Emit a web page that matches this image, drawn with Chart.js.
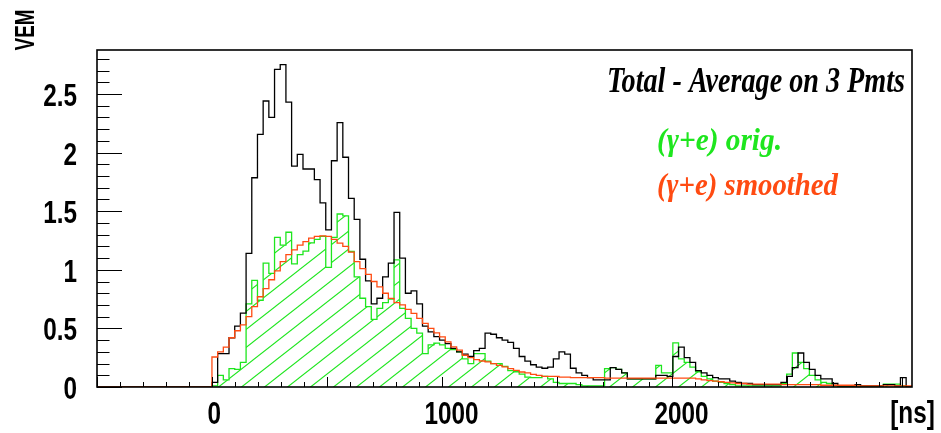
<!DOCTYPE html>
<html>
<head>
<meta charset="utf-8">
<title>VEM trace</title>
<script src="https://cdn.jsdelivr.net/npm/chart.js@4.4.1/dist/chart.umd.min.js"></script>
<style>
  html, body { margin: 0; padding: 0; background: #fff; }
  #wrap { width: 941px; height: 433px; }
</style>
</head>
<body>
<div id="wrap"><canvas id="traceChart" width="941" height="433"></canvas></div>
<script>
// FADC bins: first bin starts at t = 0
const T0 = 0;
const BIN_NS = 24.75;
const X_MIN = -500;
const X_MAX = 3045;
const Y_MAX = 2.875;

const X_TICKS = [0, 1000, 2000];
const Y_TICKS = [0, 0.5, 1, 1.5, 2, 2.5];

// total signal, average of the 3 PMTs
const TOTAL_VEM = [
  0.04, 0.285, 0.285, 0.42, 0.52, 0.63, 1.14, 1.785, 2.156, 2.44,
  2.30, 2.71, 2.75, 2.43, 1.884, 1.985, 1.86, 1.86, 1.77, 1.57,
  1.34, 1.93, 2.256, 1.96, 1.61, 1.43, 1.09, 0.905, 0.71, 0.757,
  0.94, 1.056, 1.49, 1.10, 0.80, 0.82, 0.71, 0.52, 0.47, 0.43,
  0.40, 0.37, 0.33, 0.30, 0.28, 0.26, 0.31, 0.33, 0.46, 0.45,
  0.42, 0.40, 0.38, 0.33, 0.26, 0.22, 0.19, 0.17, 0.16, 0.17,
  0.24, 0.30, 0.28, 0.16, 0.12, 0.10, 0.08, 0.06, 0.06, 0.06,
  0.165, 0.15, 0.12, 0.07, 0.07, 0.07, 0.07, 0.07, 0.10, 0.10,
  0.09, 0.26, 0.34, 0.25, 0.21, 0.14, 0.12, 0.10, 0.08, 0.07,
  0.07, 0.05, 0.04, 0.03, 0.03, 0.02, 0.02, 0.02, 0.02, 0.02,
  0.04, 0.09, 0.165, 0.29, 0.21, 0.15, 0.10, 0.07, 0.07, 0.03,
  0.01, 0.01, 0.01, 0.02, 0.01, 0.01, 0.01, 0.01, 0.02, 0.02,
  0.01, 0.08, 0
];

// electromagnetic part (gamma + e), original
const EM_ORIG = [
  0.01, 0.10, 0.06, 0.157, 0.15, 0.21, 0.71, 0.91, 0.74, 1.056,
  0.97, 1.276, 1.21, 1.32, 1.05, 1.13, 1.16, 1.23, 1.26, 1.285,
  1.02, 1.276, 1.476, 1.46, 1.156, 0.94, 0.757, 0.685, 0.577, 0.67,
  0.72, 0.75, 1.085, 0.67, 0.585, 0.50, 0.46, 0.285, 0.36, 0.375,
  0.36, 0.33, 0.32, 0.30, 0.24, 0.20, 0.285, 0.285, 0.22, 0.20,
  0.20, 0.176, 0.14, 0.13, 0.11, 0.085, 0.08, 0.08, 0.09, 0.07,
  0.04, 0.03, 0.03, 0.03, 0.02, 0.01, 0.01, 0.01, 0.01, 0.157,
  0.165, 0.15, 0.12, 0.07, 0.07, 0.07, 0.07, 0.07, 0.185, 0.12,
  0.12, 0.376, 0.24, 0.21, 0.17, 0.13, 0.09, 0.07, 0.05, 0.04,
  0.03, 0.02, 0.01, 0.01, 0.01, 0.01, 0.01, 0.01, 0.01, 0.01,
  0.03, 0.11, 0.29, 0.21, 0.157, 0.10, 0.06, 0.04, 0.03, 0.01,
  0.005, 0.005, 0.005, 0.005, 0.005, 0.005, 0.005, 0.005, 0.025, 0.025,
  0.025, 0.01, 0
];

// electromagnetic part (gamma + e), smoothed
const EM_SMOOTH = [
  0.256, 0.30, 0.34, 0.42, 0.48, 0.53, 0.60, 0.685, 0.77, 0.84,
  0.915, 0.99, 1.07, 1.13, 1.17, 1.21, 1.24, 1.27, 1.285, 1.29,
  1.285, 1.26, 1.228, 1.20, 1.15, 1.07, 1.01, 0.96, 0.90, 0.855,
  0.80, 0.756, 0.72, 0.70, 0.662, 0.628, 0.585, 0.542, 0.50, 0.462,
  0.428, 0.385, 0.342, 0.314, 0.271, 0.251, 0.234, 0.222, 0.214, 0.20,
  0.185, 0.171, 0.157, 0.142, 0.128, 0.12, 0.108, 0.10, 0.09, 0.09,
  0.09, 0.085, 0.085, 0.08, 0.08, 0.08, 0.08, 0.08, 0.08, 0.075,
  0.075, 0.075, 0.075, 0.075, 0.075, 0.075, 0.075, 0.075, 0.075, 0.075,
  0.075, 0.075, 0.075, 0.075, 0.075, 0.07, 0.06, 0.055, 0.05, 0.045,
  0.04, 0.035, 0.03, 0.03, 0.025, 0.025, 0.025, 0.025, 0.025, 0.025,
  0.02, 0.02, 0.02, 0.02, 0.02, 0.02, 0.02, 0.015, 0.015, 0.015,
  0.015, 0.015, 0.015, 0.01, 0.01, 0.01, 0.01, 0.01, 0.01, 0.01,
  0.01, 0.01, 0.01
];

const GREEN = '#1ee61e';
const RED = '#ff4b12';
const SANS = "'Liberation Sans', Arial, sans-serif";
const SERIF = "'Liberation Serif', 'DejaVu Serif', serif";
const NARROW_X = 0.76; // horizontal squeeze for the axis numbers

// histogram -> step points (value held from the left edge of each bin)
function toSteps(values) {
  const pts = [{ x: X_MIN, y: 0 }];
  values.forEach((v, k) => pts.push({ x: T0 + k * BIN_NS, y: v }));
  pts.push({ x: T0 + values.length * BIN_NS, y: 0 });
  pts.push({ x: X_MAX, y: 0 });
  return pts;
}

// diagonal hatch, like ROOT fill style 3004
function hatchPattern(color) {
  const w = 23, h = 18;
  const c = document.createElement('canvas');
  c.width = w;
  c.height = h;
  const g = c.getContext('2d');
  g.strokeStyle = color;
  g.lineWidth = 1.1;
  for (const dx of [-w, 0, w]) {
    g.beginPath();
    g.moveTo(dx - w, 2 * h);
    g.lineTo(dx + 2 * w, -h);
    g.stroke();
  }
  return g.createPattern(c, 'repeat');
}

// text squeezed horizontally so it spans left..right
function fitText(ctx, text, font, color, left, right, baseline) {
  ctx.save();
  ctx.font = font;
  ctx.fillStyle = color;
  ctx.textBaseline = 'alphabetic';
  const w = ctx.measureText(text).width;
  ctx.translate(left, baseline);
  ctx.scale((right - left) / w, 1);
  ctx.fillText(text, 0, 0);
  ctx.restore();
}

// narrow text, anchored at (x, y) with the given alignment
function narrowText(ctx, text, x, y, align) {
  ctx.save();
  ctx.translate(x, y);
  ctx.scale(NARROW_X, 1);
  ctx.textAlign = align;
  ctx.fillText(text, 0, 0);
  ctx.restore();
}

// frame, inward ticks, tick labels and the free texts
const framePlugin = {
  id: 'frame',
  afterDraw(chart) {
    const { ctx, chartArea: a, scales } = chart;
    const xs = scales.x, ys = scales.y;
    ctx.save();
    ctx.strokeStyle = '#000';
    ctx.lineWidth = 1;
    ctx.beginPath();
    for (let i = 0; i <= 28; i++) {
      const y = Math.round(ys.getPixelForValue(i / 10)) + 0.5;
      const len = i % 5 === 0 ? 25 : 12.5;
      ctx.moveTo(a.left, y);
      ctx.lineTo(a.left + len, y);
    }
    for (let t = -500; t <= 3000; t += 100) {
      const x = Math.round(xs.getPixelForValue(t)) + 0.5;
      const len = t % 500 === 0 ? 10 : 5;
      ctx.moveTo(x, a.bottom);
      ctx.lineTo(x, a.bottom - len);
    }
    ctx.stroke();

    ctx.lineWidth = 1.6;
    ctx.strokeRect(a.left, a.top, a.right - a.left, a.bottom - a.top);

    // tick labels
    ctx.fillStyle = '#000';
    ctx.font = 'bold 32px ' + SANS;
    ctx.textBaseline = 'alphabetic';
    Y_TICKS.forEach(v => {
      narrowText(ctx, String(v), a.left - 20, ys.getPixelForValue(v) + 12, 'right');
    });
    X_TICKS.forEach(v => {
      const label = String(v);
      const w = ctx.measureText(label).width * NARROW_X;
      narrowText(ctx, label, xs.getPixelForValue(v) + 0.18 * w, 424, 'center');
    });

    // axis titles
    narrowText(ctx, '[ns]', 912.5, 423, 'center');
    ctx.font = 'bold 27px ' + SANS;
    ctx.save();
    ctx.translate(34, 30);
    ctx.rotate(-Math.PI / 2);
    ctx.scale(0.7, 1);
    ctx.textAlign = 'center';
    ctx.fillText('VEM', 0, 0);
    ctx.restore();
    ctx.restore();

    fitText(ctx, 'Total - Average on 3 Pmts', 'italic bold 36px ' + SERIF, '#000', 607, 905, 92);
    fitText(ctx, '(\u03b3+e) orig.', 'italic bold 32px ' + SERIF, GREEN, 657, 782, 150);
    fitText(ctx, '(\u03b3+e) smoothed', 'italic bold 32px ' + SERIF, RED, 657, 838, 195);
  }
};

const ctx = document.getElementById('traceChart');

const lineStyle = {
  stepped: 'before',
  pointRadius: 0,
  borderWidth: 1.3,
  tension: 0,
  borderJoinStyle: 'miter',
  borderCapStyle: 'butt'
};

new Chart(ctx, {
  type: 'line',
  data: {
    datasets: [
      {
        ...lineStyle,
        label: '(\u03b3+e) smoothed',
        data: toSteps(EM_SMOOTH),
        borderColor: RED,
        fill: false,
        order: 0
      },
      {
        ...lineStyle,
        label: 'Total',
        data: toSteps(TOTAL_VEM),
        borderColor: '#000',
        fill: false,
        order: 1
      },
      {
        ...lineStyle,
        label: '(\u03b3+e) orig.',
        data: toSteps(EM_ORIG),
        borderColor: GREEN,
        backgroundColor: hatchPattern(GREEN),
        fill: 'origin',
        order: 2
      }
    ]
  },
  options: {
    responsive: false,
    devicePixelRatio: 1,
    animation: false,
    events: [],
    layout: {
      padding: { left: 0, right: 29, top: 50, bottom: 0 }
    },
    plugins: {
      legend: { display: false },
      tooltip: { enabled: false }
    },
    scales: {
      x: {
        type: 'linear',
        min: X_MIN,
        max: X_MAX,
        border: { display: false },
        grid: { display: false, drawTicks: false },
        afterBuildTicks: scale => {
          scale.ticks = X_TICKS.map(v => ({ value: v }));
        },
        afterFit: scale => {
          scale.height = 46;
        },
        ticks: { display: false }
      },
      y: {
        type: 'linear',
        min: 0,
        max: Y_MAX,
        border: { display: false },
        grid: { display: false, drawTicks: false },
        afterBuildTicks: scale => {
          scale.ticks = Y_TICKS.map(v => ({ value: v }));
        },
        afterFit: scale => {
          scale.width = 97;
        },
        ticks: { display: false }
      }
    }
  },
  plugins: [framePlugin]
});
</script>
</body>
</html>
